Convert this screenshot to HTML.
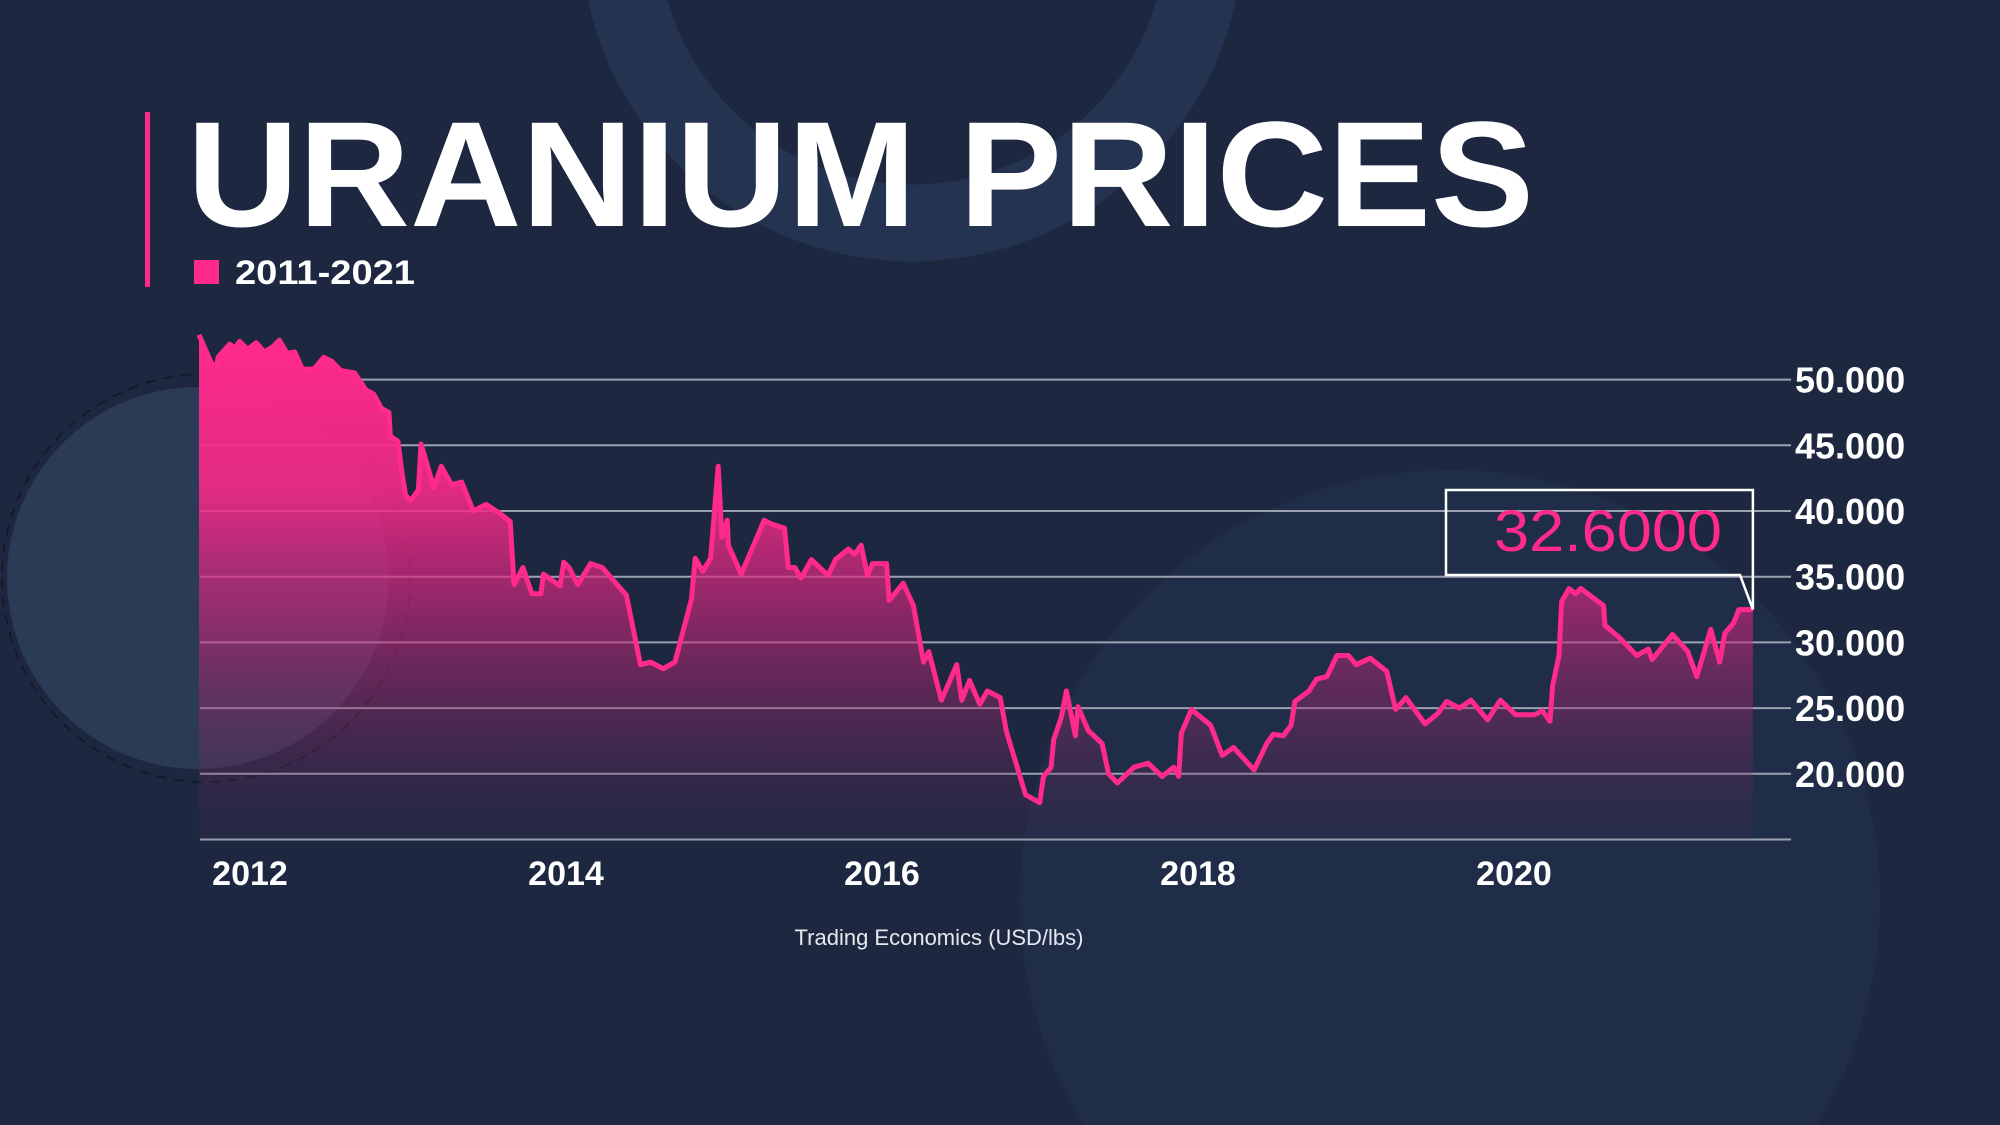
<!DOCTYPE html>
<html><head><meta charset="utf-8"><style>
html,body{margin:0;padding:0;background:#1d2840;width:2000px;height:1125px;overflow:hidden;}
svg{display:block;font-family:"Liberation Sans",sans-serif;}
</style></head><body>
<svg id="chart" width="2000" height="1125" viewBox="0 0 2000 1125">
<defs>
<linearGradient id="fillGrad" gradientUnits="userSpaceOnUse" x1="0" y1="340" x2="0" y2="840">
<stop offset="0" stop-color="#ff2a8a" stop-opacity="1"/>
<stop offset="0.3" stop-color="#f52a88" stop-opacity="0.9"/>
<stop offset="0.6" stop-color="#c8267a" stop-opacity="0.55"/>
<stop offset="1" stop-color="#5a2a55" stop-opacity="0.1"/>
</linearGradient>
</defs>
<rect width="2000" height="1125" fill="#1d2840"/>
<path d="M588,0 A331.5 331.5 0 0 0 1236,0 L1156.7,0 A254.5 254.5 0 0 1 667.3,0 Z" fill="#243350"/>
<path d="M1083.6,1125 A430 430 0 1 1 1816.4,1125 Z" fill="#202d48"/>
<circle cx="198" cy="578" r="191" fill="#2b3a55"/>
<circle cx="206" cy="578" r="204" fill="none" stroke="#121a2a" stroke-width="2" stroke-dasharray="10 8"/>
<rect x="145" y="112" width="5" height="175" fill="#ff2a8a"/>
<text x="187" y="226" font-size="150" font-weight="bold" fill="#ffffff" textLength="1347" lengthAdjust="spacingAndGlyphs">URANIUM PRICES</text>
<rect x="194" y="260" width="25" height="24" fill="#ff2a8a"/>
<text x="235" y="284" font-size="34" font-weight="bold" fill="#ffffff" textLength="180" lengthAdjust="spacingAndGlyphs">2011-2021</text>
<g id="grid"></g>
<g id="series"></g>
<g id="xaxis"></g>
<g id="callout"></g>
<text x="939" y="945" font-size="22" fill="#e6e8ee" text-anchor="middle">Trading Economics (USD/lbs)</text>
</svg>
<script>
const years=[2011.677,2011.750,2011.782,2011.798,2011.871,2011.903,2011.935,2011.984,2012.040,2012.089,2012.145,2012.186,2012.234,2012.283,2012.331,2012.404,2012.468,2012.517,2012.573,2012.662,2012.735,2012.783,2012.832,2012.880,2012.888,2012.937,2012.961,2012.985,2013.017,2013.066,2013.082,2013.163,2013.211,2013.276,2013.340,2013.413,2013.494,2013.583,2013.647,2013.671,2013.728,2013.784,2013.841,2013.857,2013.962,2013.986,2014.019,2014.075,2014.156,2014.229,2014.382,2014.471,2014.535,2014.616,2014.689,2014.794,2014.818,2014.866,2014.915,2014.963,2014.987,2015.020,2015.028,2015.109,2015.205,2015.254,2015.302,2015.383,2015.407,2015.448,2015.488,2015.553,2015.658,2015.706,2015.787,2015.827,2015.868,2015.908,2015.940,2016.029,2016.045,2016.134,2016.199,2016.263,2016.296,2016.376,2016.473,2016.505,2016.554,2016.619,2016.667,2016.748,2016.788,2016.909,2016.998,2017.022,2017.070,2017.087,2017.135,2017.167,2017.224,2017.240,2017.305,2017.393,2017.434,2017.490,2017.595,2017.684,2017.773,2017.846,2017.878,2017.894,2017.959,2018.080,2018.153,2018.225,2018.355,2018.435,2018.476,2018.540,2018.589,2018.613,2018.702,2018.750,2018.815,2018.880,2018.952,2019.001,2019.090,2019.194,2019.251,2019.316,2019.437,2019.518,2019.574,2019.655,2019.728,2019.833,2019.913,2020.010,2020.131,2020.180,2020.228,2020.244,2020.285,2020.301,2020.349,2020.389,2020.422,2020.567,2020.575,2020.664,2020.777,2020.850,2020.874,2021.003,2021.100,2021.157,2021.245,2021.302,2021.334,2021.391,2021.423,2021.512];
const prices=[53.4,51.4,50.7,51.7,52.7,52.4,52.9,52.3,52.8,52.1,52.5,53.0,52.0,52.1,50.8,50.8,51.7,51.4,50.7,50.5,49.2,48.9,47.8,47.5,45.7,45.3,43.0,41.2,40.8,41.6,45.1,41.8,43.4,42.0,42.2,40.0,40.5,39.8,39.2,34.4,35.7,33.7,33.7,35.2,34.3,36.1,35.7,34.4,36.0,35.7,33.6,28.3,28.5,28.0,28.5,33.3,36.4,35.4,36.4,43.4,38.0,39.3,37.4,35.2,37.9,39.3,39.0,38.7,35.7,35.7,34.9,36.3,35.1,36.3,37.1,36.7,37.4,35.1,36.0,36.0,33.2,34.5,32.8,28.5,29.3,25.6,28.3,25.6,27.1,25.3,26.3,25.8,23.2,18.4,17.8,19.8,20.5,22.6,24.3,26.3,22.9,25.1,23.3,22.3,20.0,19.3,20.5,20.8,19.8,20.5,19.8,23.1,24.9,23.7,21.4,22.0,20.3,22.3,23.0,22.9,23.7,25.5,26.3,27.2,27.4,29.0,29.0,28.3,28.8,27.8,24.9,25.8,23.8,24.6,25.5,25.0,25.6,24.1,25.6,24.5,24.5,24.8,24.0,26.7,29.0,33.1,34.1,33.7,34.1,32.8,31.3,30.4,29.0,29.5,28.7,30.6,29.3,27.4,31.0,28.5,30.7,31.5,32.5,32.5];
const yTicks=[50,45,40,35,30,25,20];
const yTickLabels=["50.000","45.000","40.000","35.000","30.000","25.000","20.000"];
const xTicks=[2012,2014,2016,2018,2020];
const lastValueLabel="32.6000";

const NS="http://www.w3.org/2000/svg";
const X=y=>250+(y-2012)*158;
const Y=v=>379.6+(50-v)*13.14;
const BASE=15;
function mk(tag,attrs,parent){const e=document.createElementNS(NS,tag);for(const k in attrs)e.setAttribute(k,attrs[k]);parent.appendChild(e);return e;}

const grid=document.getElementById('grid');
const gridVals=yTicks.concat([BASE]);
gridVals.forEach((v,i)=>{
  const l=mk('line',{x1:200,x2:1791,y1:Y(v),y2:Y(v),stroke:'#9ba1b0','stroke-width':2},grid);
  
  
  if(i<yTickLabels.length){
    const t=mk('text',{x:1795,y:Y(v)+13,'font-size':36,'font-weight':'bold',fill:'#ffffff'},grid);
    t.textContent=yTickLabels[i];
    
    
  }
});

const series=document.getElementById('series');
let d='';
years.forEach((yr,i)=>{d+=(i?'L':'M')+X(yr).toFixed(1)+','+Y(prices[i]).toFixed(1);});
const area=mk('path',{d:d+'L'+X(years[years.length-1]).toFixed(1)+','+Y(BASE)+'L'+X(years[0]).toFixed(1)+','+Y(BASE)+'Z',fill:'url(#fillGrad)'},series);


const line=mk('path',{d:d,fill:'none',stroke:'#ff2a8a','stroke-width':5,'stroke-linejoin':'round'},series);



const xa=document.getElementById('xaxis');
xTicks.forEach(yr=>{
  const t=mk('text',{x:X(yr),y:885,'font-size':34,'font-weight':'bold',fill:'#ffffff','text-anchor':'middle'},xa);
  t.textContent=String(yr);
  
  
});

const co=document.getElementById('callout');
const ex=X(years[years.length-1]), ey=Y(prices[prices.length-1]);
const box=mk('path',{d:`M1446,490 L${ex},490 L${ex},${ey} L1740,575 L1446,575 Z`,fill:'none',stroke:'#ffffff','stroke-width':2.5},co);


const ct=mk('text',{x:1722,y:551,'font-size':58,fill:'#ff2a8a','text-anchor':'end',textLength:228,lengthAdjust:'spacingAndGlyphs'},co);
ct.textContent=lastValueLabel;


</script>
</body></html>
